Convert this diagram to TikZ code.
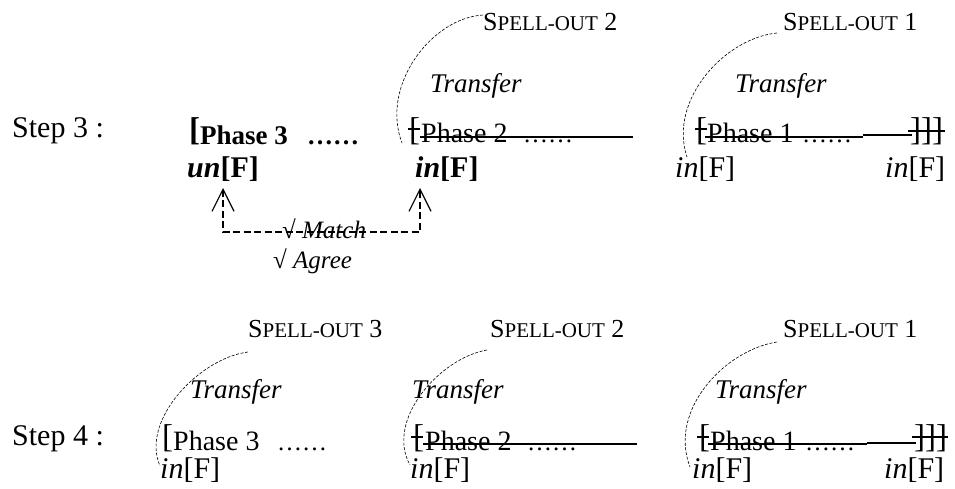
\documentclass[tikz,border=0pt]{standalone}
\usepackage{fontspec}
\setmainfont{Liberation Serif}
\usetikzlibrary{arrows.meta}
\newcommand{\myfs}[1]{\fontsize{#1pt}{#1pt}\selectfont}
\newcommand{\spout}[1]{{\myfs{26}S{\myfs{21}PELL-OUT} #1}}
\begin{document}
\begin{tikzpicture}[x=1pt,y=-1pt,
  txt/.style={inner sep=0pt, anchor=base west},
  steptxt/.style={txt, font=\myfs{30}},
  brk/.style={txt, font=\myfs{33}},
  phasetxt/.style={txt, font=\myfs{28}},
  feat/.style={txt, font=\myfs{30}},
  trtxt/.style={txt, font=\myfs{27}\itshape},
  sotxt/.style={txt},
  arcln/.style={line width=0.6pt, dash pattern=on 3pt off 1.6pt},
  strike/.style={line width=1.5pt},
  agreeln/.style={line width=1.1pt, dash pattern=on 7pt off 3.5pt,
    {Straight Barb[length=22pt,width=22pt,line width=1.2pt]}-{Straight Barb[length=22pt,width=22pt,line width=1.2pt]}}
]
\useasboundingbox (0,0) rectangle (955,488);

% ---------------- Step 3 ----------------
\node[steptxt] (s3) at (12,137) {Step 3 :};

\node[brk, font=\myfs{33}\bfseries] (b3) at (189,140) {[};
\node[phasetxt, font=\myfs{27}\bfseries] (p3) at (200,144) {Phase 3};
\node[phasetxt, font=\myfs{26}\bfseries] (d3) at (307,144) {……};
\node[feat, font=\myfs{30}\bfseries] (u3) at (187,177) {\textit{un}[F]};

% middle column
\node[sotxt] (so2) at (483,30) {\spout{2}};
\node[trtxt] (tr2) at (430,92) {Transfer};
\node[brk] (b2) at (409,140) {[};
\node[phasetxt] (p2) at (421,142) {Phase 2};
\node[phasetxt, font=\myfs{25}] (d2) at (523,142) {……};
\node[feat, font=\myfs{30}\bfseries] (i2) at (415,177) {\textit{in}[F]};
\coordinate (s2a) at (420,137);
\coordinate (s2b) at (633,137);
\draw[strike] (s2a) -- (s2b);
\draw[strike] (408,129) -- (420,129);
\coordinate (a2s) at (483,15);
\coordinate (a2e) at (402,143);
\draw[arcln] (a2s) .. controls (432,18) and (380,85) .. (a2e);

% right column
\node[sotxt] (so1) at (783,30) {\spout{1}};
\node[trtxt] (tr1) at (735,92) {Transfer};
\node[brk] (b1) at (696,140) {[};
\node[phasetxt] (p1) at (707,142) {Phase 1};
\node[phasetxt, font=\myfs{25}] (d1) at (802,142) {……};
\node[brk] (rb1) at (910,140) {]]]};
\node[feat] (i1a) at (675,177) {\textit{in}[F]};
\node[feat] (i1b) at (885,177) {\textit{in}[F]};
\draw[strike] (705,137) -- (863,137);
\draw[strike] (863,135) -- (912,135);
\draw[strike] (908,131) -- (945,131);
\draw[strike] (695,129) -- (707,129);
\coordinate (a1s) at (777,33);
\coordinate (a1e) at (687,157);
\draw[arcln] (a1s) .. controls (725,38) and (668,100) .. (a1e);

% Agree connector
\coordinate (t1) at (223,188);
\coordinate (c1) at (223,232);
\coordinate (c2) at (420,232);
\coordinate (t2) at (420,188);
\draw[agreeln] (t1) -- (c1) -- (c2) -- (t2);
\node[txt, font=\myfs{25}] (match) at (282,238) {√ \textit{Match}};
\node[txt, font=\myfs{25}] (agree) at (273,268) {√ \textit{Agree}};

% ---------------- Step 4 ----------------
\node[steptxt] (s4) at (12,445) {Step 4 :};

% left column
\node[sotxt] (so3) at (248,337) {\spout{3}};
\node[trtxt] (tr3) at (190,398) {Transfer};
\node[brk] (b3b) at (162,447) {[};
\node[phasetxt] (p3b) at (173,450) {Phase 3};
\node[phasetxt, font=\myfs{25}] (d3b) at (277,450) {……};
\node[feat] (i3b) at (160,478) {\textit{in}[F]};
\coordinate (a3s) at (248,352);
\coordinate (a3e) at (160,466);
\draw[arcln] (a3s) .. controls (200,358) and (140,420) .. (a3e);

% middle column
\node[sotxt] (so2b) at (490,337) {\spout{2}};
\node[trtxt] (tr2b) at (412,398) {Transfer};
\node[brk] (b2b) at (413,447) {[};
\node[phasetxt] (p2b) at (425,450) {Phase 2};
\node[phasetxt, font=\myfs{25}] (d2b) at (527,450) {……};
\node[feat] (i2b) at (410,478) {\textit{in}[F]};
\draw[strike] (423,444) -- (637,444);
\draw[strike] (411,437) -- (423,437);
\coordinate (a2bs) at (487,350);
\coordinate (a2be) at (410,465);
\draw[arcln] (a2bs) .. controls (440,358) and (385,420) .. (a2be);

% right column
\node[sotxt] (so1b) at (783,337) {\spout{1}};
\node[trtxt] (tr1b) at (715,398) {Transfer};
\node[brk] (b1b) at (699,447) {[};
\node[phasetxt] (p1b) at (710,450) {Phase 1};
\node[phasetxt, font=\myfs{25}] (d1b) at (805,450) {……};
\node[brk] (rb1b) at (914,447) {]]]};
\node[feat] (i1c) at (692,478) {\textit{in}[F]};
\node[feat] (i1d) at (884,478) {\textit{in}[F]};
\draw[strike] (708,444) -- (867,444);
\draw[strike] (867,443) -- (916,443);
\draw[strike] (912,437) -- (948,437);
\draw[strike] (697,437) -- (709,437);
\coordinate (a1bs) at (777,342);
\coordinate (a1be) at (690,467);
\draw[arcln] (a1bs) .. controls (725,350) and (668,410) .. (a1be);
\end{tikzpicture}
\end{document}
